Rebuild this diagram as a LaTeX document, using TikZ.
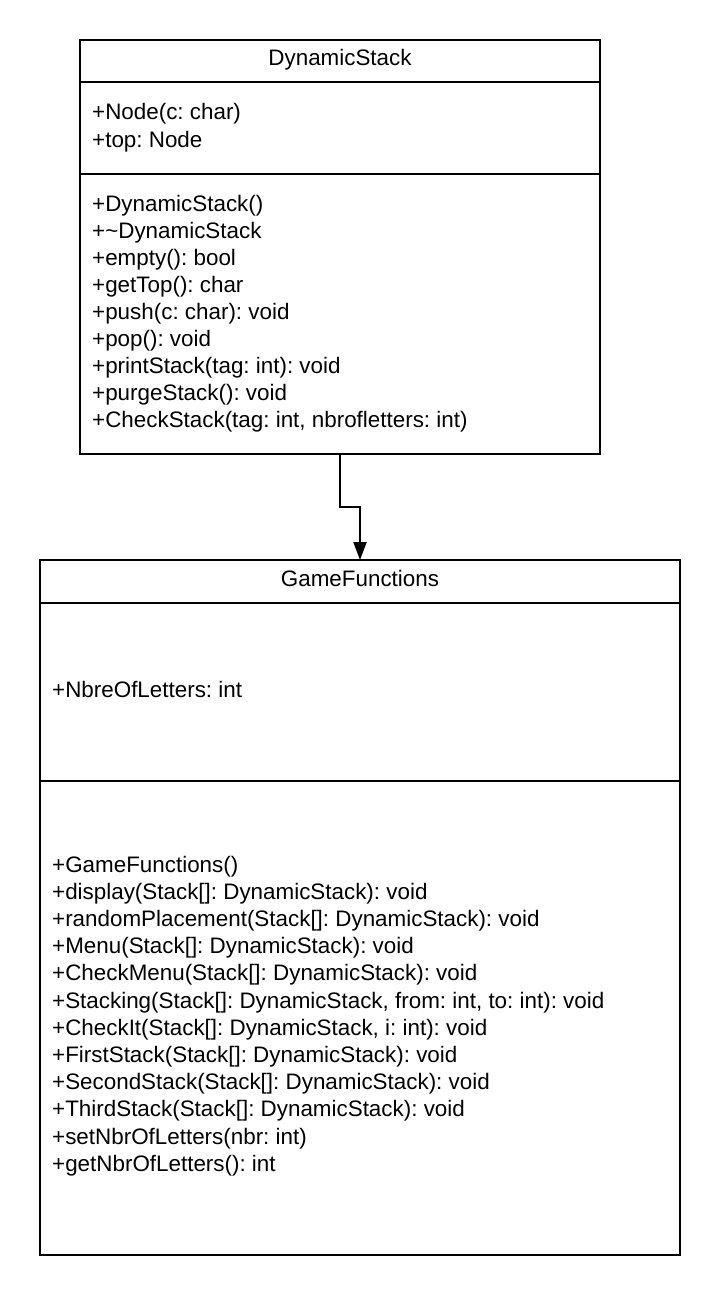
\documentclass[tikz,border=0pt]{standalone}
\usepackage{fontspec}
\setmainfont{Liberation Sans}
\frenchspacing
\usetikzlibrary{arrows.meta}
\tikzset{
  classbox/.style={draw=black, line width=2pt, inner sep=0pt, outer sep=0pt, anchor=north west},
  sepline/.style={draw=black, line width=2pt},
  txt/.style={anchor=base west, inner sep=0pt, font=\fontsize{22.4}{27}\selectfont, text=black},
  head/.style={anchor=base, inner sep=0pt, font=\fontsize{22.4}{27}\selectfont, text=black},
  arr/.style={draw=black, line width=2pt, -{Triangle[length=18pt,width=13pt]}}
}
\begin{document}
\begin{tikzpicture}[x=1pt,y=-1pt]
\useasboundingbox[fill=white] (0,0) rectangle (720,1295);
% DynamicStack
\node[classbox, minimum width=520pt, minimum height=414pt] (ds) at (80,40) {};
\draw[sepline] (80,82) -- (600,82);
\draw[sepline] (80,174) -- (600,174);
\node[head] (dsh) at (340,66) {DynamicStack};
\node[txt] (dsa1) at (92,120) {+Node(c: char)};
\node[txt] (dsa2) at (92,147) {+top: Node};
\foreach \t [count=\i] in {{+DynamicStack()},{+\textasciitilde DynamicStack},{+empty(): bool},{+getTop(): char},{+push(c: char): void},{+pop(): void},{+printStack(tag: int): void},{+purgeStack(): void},{+CheckStack(tag: int, nbrofletters: int)}}
  \node[txt] (dsm\i) at (92,{211+27*(\i-1)}) {\t};
% GameFunctions
\node[classbox, minimum width=640pt, minimum height=695pt] (gf) at (40,560) {};
\draw[sepline] (40,603) -- (680,603);
\draw[sepline] (40,781) -- (680,781);
\node[head] (gfh) at (360,586) {GameFunctions};
\node[txt] (gfa1) at (52,697) {+NbreOfLetters: int};
\foreach \t [count=\i] in {{+GameFunctions()},{+display(Stack[]: DynamicStack): void},{+randomPlacement(Stack[]: DynamicStack): void},{+Menu(Stack[]: DynamicStack): void},{+CheckMenu(Stack[]: DynamicStack): void},{+Stacking(Stack[]: DynamicStack, from: int, to: int): void},{+CheckIt(Stack[]: DynamicStack, i: int): void},{+FirstStack(Stack[]: DynamicStack): void},{+SecondStack(Stack[]: DynamicStack): void},{+ThirdStack(Stack[]: DynamicStack): void},{+setNbrOfLetters(nbr: int)},{+getNbrOfLetters(): int}}
  \node[txt] (gfm\i) at (52,{872+27.2*(\i-1)}) {\t};
% connector
\draw[arr] (ds.south) -- ++(0,53) coordinate (bend) -| (gf.north);
\end{tikzpicture}
\end{document}
